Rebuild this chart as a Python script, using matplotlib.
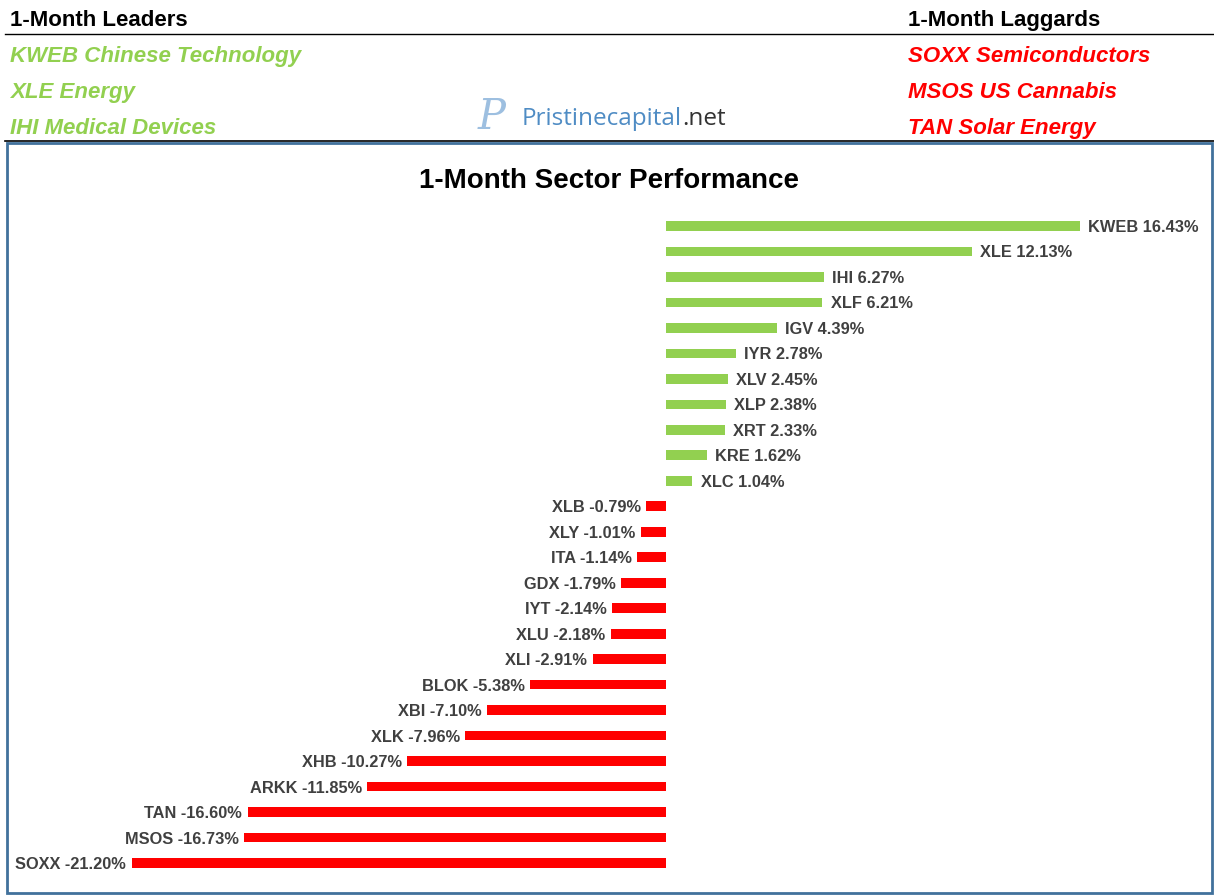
import matplotlib
matplotlib.use("Agg")
import matplotlib.pyplot as plt
from matplotlib.patches import Rectangle
from matplotlib.lines import Line2D
from matplotlib.text import Annotation

# ---------------- data ----------------
tickers = ["KWEB", "XLE", "IHI", "XLF", "IGV", "IYR", "XLV", "XLP", "XRT", "KRE", "XLC",
           "XLB", "XLY", "ITA", "GDX", "IYT", "XLU", "XLI", "BLOK", "XBI", "XLK", "XHB",
           "ARKK", "TAN", "MSOS", "SOXX"]
returns = [16.43, 12.13, 6.27, 6.21, 4.39, 2.78, 2.45, 2.38, 2.33, 1.62, 1.04,
           -0.79, -1.01, -1.14, -1.79, -2.14, -2.18, -2.91, -5.38, -7.10, -7.96, -10.27,
           -11.85, -16.60, -16.73, -21.20]
leaders = ["KWEB Chinese Technology", "XLE Energy", "IHI Medical Devices"]
laggards = ["SOXX Semiconductors", "MSOS US Cannabis", "TAN Solar Energy"]
chart_title = "1-Month Sector Performance"
leaders_title = "1-Month Leaders"
laggards_title = "1-Month Laggards"

plt.rcParams['font.family'] = ['Liberation Sans', 'DejaVu Sans']

GREEN = "#92D050"
RED = "#FF0000"
LABEL = "#404040"

W, H = 1214, 896
fig = plt.figure(figsize=(W / 100, H / 100), dpi=100)

def fx(px):
    return px / W

def fy(py):
    return 1 - py / H

# header
fig.text(fx(10), fy(18), leaders_title, fontsize=16, fontweight='bold', color='black', va='center_baseline', ha='left')
fig.text(fx(908), fy(18), laggards_title, fontsize=16, fontweight='bold', color='black', va='center_baseline', ha='left')
fig.add_artist(Line2D([fx(5), fx(1214)], [fy(34), fy(34)], color='black', lw=1.0))
fig.add_artist(Line2D([fx(5), fx(1214)], [fy(141), fy(141)], color='black', lw=1.2))

for i, t in enumerate(leaders):
    fig.text(fx(10), fy(54 + 36 * i), t, fontsize=16, fontweight='bold', fontstyle='italic',
             color=GREEN, va='center_baseline', ha='left')
for i, t in enumerate(laggards):
    fig.text(fx(908), fy(54 + 36 * i), t, fontsize=16, fontweight='bold', fontstyle='italic',
             color=RED, va='center_baseline', ha='left')

# logo
fig.text(fx(478), fy(117), "P", fontsize=30, fontstyle='italic', family='DejaVu Serif',
         color='#9DBFE0', va='center', ha='left')
t1 = fig.text(fx(522), fy(116), "Pristinecapital", fontsize=17.5, family='Open Sans',
              color='#4F8CC4', va='center_baseline', ha='left')
fig.add_artist(Annotation(".net", xy=(1, 0), xycoords=t1, va='bottom', ha='left',
                          fontsize=17.5, family='Open Sans', color='#333333',
                          annotation_clip=False))

# chart box
fig.add_artist(Rectangle((fx(7), fy(893)), fx(1212) - fx(7), fy(143) - fy(893),
                         transform=fig.transFigure, fill=False, edgecolor='#41719C', lw=2.0))
fig.text(fx(609), fy(178), chart_title, fontsize=20, fontweight='bold', color='black',
         va='center_baseline', ha='center')

# axes
ax_left, ax_right, ax_top, ax_bot = 10, 1200, 200, 890
ax = fig.add_axes([fx(ax_left), fy(ax_bot), fx(ax_right) - fx(ax_left), fy(ax_top) - fy(ax_bot)])
ppu = 25.2
zero_px = 666
ax.set_xlim((ax_left - zero_px) / ppu, (ax_right - zero_px) / ppu)
step = 25.48
y0 = 226
ax.set_ylim((ax_bot - y0) / step, (ax_top - y0) / step)
ax.axis('off')

ypos = list(range(len(tickers)))
colors = [GREEN if v >= 0 else RED for v in returns]
ax.barh(ypos, returns, height=0.38, color=colors)

for y, tk, v in zip(ypos, tickers, returns):
    label = f"{tk} {v:.2f}%"
    if v >= 0:
        ax.annotate(label, xy=(v, y), xytext=(6, 0), textcoords='offset points',
                    ha='left', va='center_baseline', fontsize=11.8, fontweight='bold', color=LABEL,
                    annotation_clip=False)
    else:
        ax.annotate(label, xy=(v, y), xytext=(-4, 0), textcoords='offset points',
                    ha='right', va='center_baseline', fontsize=11.8, fontweight='bold', color=LABEL,
                    annotation_clip=False)

fig.savefig("out.png", dpi=100)
